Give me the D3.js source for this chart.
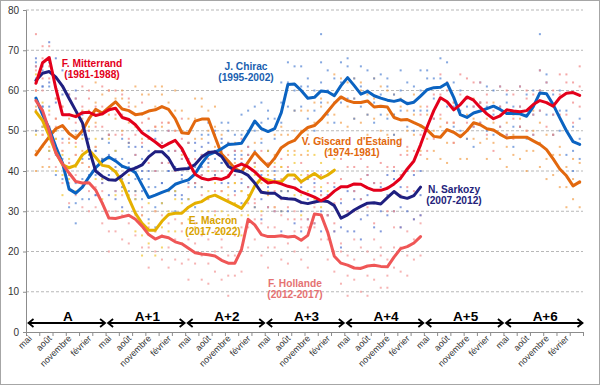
<!DOCTYPE html>
<html>
<head>
<meta charset="utf-8">
<script src="https://cdn.jsdelivr.net/npm/d3@7"></script>
<style>
  body { margin: 0; background: #fff; }
  text { font-family: Arial, "Liberation Sans", sans-serif; }
</style>
</head>
<body>
<svg id="canvas" width="600" height="385"></svg>
<script>
// popularity (%), monthly averages, index 0 = juin of year A
var mitterrand = [61.8,66.9,68.2,60.5,54,54,53.5,54.5,54.6,53.8,
  54.2,55.2,55.6,53.3,52.8,51.5,49.5,48.4,47.2,45.9,
  46.8,47.6,45.6,42.3,39.2,38.2,37.8,38.2,37.9,38.6,
  41,41.7,41,39.8,38.2,37,37.3,36.8,36.2,35.8,
  34.8,34.2,33.5,32.6,33.5,35,36.1,36.1,36.8,36.7,
  35.8,35.2,35.2,35.7,36.8,38.2,40.5,42.5,46.5,51,
  55,58.2,57.2,55.2,56.5,58.4,57.6,55.8,54.2,53,
  53.7,55.2,54.9,54.7,55,56.5,57.5,57,56.1,58.2,
  59.3,59.5,58.8];
var chirac = [58.1,54,50.5,46,42,35.5,34.5,36,38.5,40.8,
  42.4,43.5,42.5,41.2,40.6,39.6,36.5,33.4,34,34.7,
  35.3,36.7,37.3,37.8,39.3,41.9,44,44.7,45.5,46.6,
  46.7,46.9,49.5,52.4,50.5,49.8,50.5,54.5,61.5,61.6,
  60,58.1,58.3,59.9,59.7,58.7,61.2,63.2,61.2,59.1,
  59.8,58.7,58.1,57.6,57.3,57.7,56.7,57.1,58.6,60.2,
  60.7,60.8,61.8,58.3,54,53.3,54.4,54.9,55.5,56.1,
  55.3,54.3,54.3,54.2,53.6,56,59.4,59.2,56.5,53.2,
  50,47.3,46.6];
var giscard = [44,46.3,48.5,50.5,51.3,49.3,48.1,50,53,55.3,
  54.4,55.8,57.2,55.4,55,54,54.2,54.9,55.2,56,
  55.3,53,49.5,49.3,52.4,52.9,52.9,48.5,44.2,42.5,
  40.6,39.8,42.2,44.6,42.8,41.2,43.2,45.8,46.9,47.6,
  49.5,50.8,51.3,52.8,54.8,56.8,58.4,57.5,57,57,
  57.4,55.9,56.1,55.9,53.3,52.7,52.8,52,51.3,50.2,
  48.6,48.4,50.3,49.6,48.5,50,52,51.5,50.5,50.2,
  49.1,48.2,48.4,48.4,48.4,47.5,46.6,45.3,43,40.5,
  38.8,36.3,37.3];
var sarkozy = [62.5,64.3,64.7,63.3,61.1,58,55,52,45.5,40,
  38.7,37.8,37.7,38.9,40.2,40.7,41.5,43.5,44.8,44.8,
  43.2,40.3,40.5,40.6,41.6,43.5,44.6,44.8,43.6,41.2,
  40.1,39.8,38.9,37,34.7,34.5,34.5,33.3,33.1,33,
  32.2,31.9,32.3,32.6,32.4,31.4,28.3,29.1,30.3,31.2,
  32,32.1,31.8,33.4,34.9,33.6,33.2,33.9,36];
var hollande = [57.5,55,50,44.5,41.8,39.5,37.4,37,37.1,35.3,
  32,28.3,28.2,28.6,29,28,26.3,24.2,23.1,23.8,
  23.4,22.4,21.9,20.8,19.7,19.4,19.2,18.9,17.8,17.1,
  17.1,20.5,28,26.6,24.2,23.7,23.7,23.9,23.6,23.8,
  22.8,24,29.3,29.1,24.8,18.8,17.1,16.6,15.9,15.8,
  16.4,16.6,16.3,16.2,18.6,20.7,21.2,22.1,23.7];
var macron = [54.7,52.5,48.7,44.6,41.6,40.8,41.4,44,45.2,43.4,
  41.4,41.1,39.8,37.2,33.2,29.5,27,25.3,25.3,27.5,
  29.2,29.5,29.5,31,32,32.4,33.5,34,33.2,32.4,
  31.6,30.7,33,36.3,38.2,37.8,37.3,37.3,39,39,
  37.3,38.4,39.4,38.2,39,40.2];

// individual polls, one group per month (same start as above)
var mitterrandPolls = "55,60,66,74|63,68,71|63,66,71|53,58,63|51,56,61|48,54,59|47,52,58|51,56,61|50,58,60|46,51,56|51,56,61|49,55,60|49,54,60|49,54,59|48,56,58|44,49,54|47,52,57|42,48,53|40,45,51|42,47,52|42,50,52|40,45,50|43,48,53|36,42,47|32,37,43|34,39,44|33,41,43|30,35,40|35,40,45|33,39,44|34,39,45|38,43,48|36,44,46|32,37,42|35,40,45|31,37,42|30,35,41|33,38,43|31,39,41|28,33,38|32,37,42|28,34,39|27,32,38|29,34,39|29,37,39|27,32,37|33,38,43|30,36,41|30,35,41|33,38,43|31,39,41|27,32,37|32,37,42|30,36,41|30,35,41|34,39,44|36,44,46|35,40,45|44,49,54|45,51,56|48,53,59|54,59,64|52,60,62|47,52,57|54,59,64|52,58,63|51,56,62|52,57,62|49,57,59|45,50,55|51,56,61|49,55,60|48,53,59|51,56,61|50,58,60|49,54,59|55,60,65|51,57,62|49,54,60|54,59,64|54,62,64|52,57,62|56,61,66";
var chiracPolls = "50,55,63,67|51,56,61,65|45,51,56,61|39,44,50|38,43,48|31,39,41|27,32,37|33,38,43|33,39,44|34,39,45|38,43,48|39,47,49|35,40,45|38,43,48|35,41,46|33,38,44|33,38,43|28,36,38|26,31,36|32,37,42|29,35,40|30,35,41|33,38,43|33,41,43|31,36,41|39,44,49|38,44,49|38,43,49|42,47,52|42,50,52|39,44,49|44,49,54|44,50,55|45,50,56|47,52,57|45,53,55|43,48,53|52,57,62|56,62,67|55,60,66|56,61,66|53,61,63|50,55,60|57,62,67,74|54,60,65|52,57,63|57,62,67|58,66,68|53,58,63|56,61,66|54,60,65|52,57,63|54,59,64|53,61,63|49,54,59|55,60,65|51,57,62|50,55,61|55,60,65|55,63,65|53,58,63|58,63,68|56,62,67|51,56,62|50,55,60|48,56,58|46,51,56|52,57,62|50,56,61|49,54,60|51,56,61|49,57,59|46,51,56|51,56,61|48,54,59|49,54,60|55,60,65,74|54,62,64|49,54,59|50,55,60|44,50,55|40,45,51|43,48,53";
var giscardPolls = "40,45,50,56|41,49,51|41,46,51|48,53,58|45,51,56|42,47,53|44,49,54|45,53,55|45,50,55|52,57,62|48,54,59|49,54,60|53,58,63|50,58,60|47,52,57|51,56,61|48,54,59|48,53,59|51,56,61|51,59,61|47,52,57|50,55,60|44,50,55|42,47,53|48,53,58|48,56,58|45,50,55|46,51,56|38,44,49|36,41,47|37,42,47|35,43,45|34,39,44|42,47,52|37,43,48|34,39,45|39,44,49|41,49,51|39,44,49|45,50,55|44,50,55|44,49,55|47,52,57|48,56,58|47,52,57|54,59,64|52,58,63|51,56,62|53,58,63|52,60,62|49,54,59|53,58,63|50,56,61|49,54,60|49,54,59|48,56,58|45,50,55|49,54,59|45,51,56|43,48,54|45,50,55|43,51,53|42,47,52|47,52,57|43,49,54|43,48,54|48,53,58|47,55,57|43,48,53|47,52,57|43,49,54|41,46,52|44,49,54|43,51,53|40,45,50|45,50,55|41,47,52|38,43,49|39,44,49|36,44,46|31,36,41|33,38,43|31,37,42";
var sarkozyPolls = "58,66,68|56,61,66|62,67,72|57,63,68|54,59,65|54,59,64|50,58,60|44,49,54|43,48,53|34,40,45|32,37,43|34,39,44|33,41,43|31,36,41|37,42,47|35,41,46|35,40,46|40,45,50|40,48,50|37,42,47|40,45,50|34,40,45|34,39,45|37,42,47|37,45,47|36,41,46|42,47,52|39,45,50|37,42,48|37,42,47|35,43,45|32,37,42|36,41,46|31,37,42|28,33,39|31,36,41|30,38,40|25,30,35|30,35,40|27,33,38|25,30,36|28,33,38|27,35,37|25,30,35|29,34,39|25,31,36|21,26,32|25,30,35|25,33,35|23,28,33|29,34,39|26,32,37|25,30,36|29,34,39|30,38,40|26,31,36|30,35,40|28,34,39|29,34,40";
var hollandePolls = "55,60,65|49,55,60|43,48,54|41,46,51|37,45,47|32,37,42|34,39,44|31,37,42|30,35,41|31,36,41|27,35,37|20,25,30|25,30,35|23,29,34|22,27,33|24,29,34|21,29,31|16,21,26|20,25,30|18,24,29|16,21,27|18,23,28|17,25,27|13,18,23|17,22,27|13,19,24|12,17,23|15,20,25|13,21,23|9,14,19|14,19,24|15,21,26|21,26,32|23,28,33|19,27,29|16,21,26|21,26,31|18,24,29|17,22,28|20,25,30|18,26,28|16,21,26|26,31,36|23,29,34|18,23,29|15,20,25|12,20,22|9,14,19|13,18,23|10,16,21|9,14,20|13,18,23|11,19,21|11,14,18|16,21,26|15,21,26|14,19,25|18,23,28|19,27,29";
var macronPolls = "49,55,60,64|46,51,57|45,50,55|40,48,50|34,39,44|38,43,48|35,41,46|37,42,48|41,46,51|38,46,48|33,38,43|38,43,48|34,40,45|30,35,41|29,34,39|25,33,35|19,24,29|22,27,32|19,25,30|21,26,32|25,30,35|25,33,35|22,27,32|28,33,38|26,32,37|25,30,36|30,35,40|29,37,39|25,30,35|29,34,39|26,32,37|24,29,35|29,34,39|31,39,41|30,35,40|35,40,45|31,37,42|30,35,41|35,40,45|34,42,44|29,34,39|35,40,45|33,39,44|31,36,42|35,40,45|35,43,45";

var monthLabels = ["mai", "août", "novembre", "février"];
var yearLabels = ["A", "A+1", "A+2", "A+3", "A+4", "A+5", "A+6"];
var yTicks = [0, 10, 20, 30, 40, 50, 60, 70, 80];

var presidents = [
  {name: "V. Giscard\u00a0\u00a0d'Estaing", years: "(1974-1981)", values: giscard, polls: giscardPolls, color: "#e2680e", dot: "#f3a557", label: "#e2680e", lx: 352, ly: 145},
  {name: "J. Chirac", years: "(1995-2002)", values: chirac, polls: chiracPolls, color: "#0b63c1", dot: "#5b8ad6", label: "#1a5fb0", lx: 246, ly: 70},
  {name: "E. Macron", years: "(2017-2022)", values: macron, polls: macronPolls, color: "#e5b000", dot: "#f2c73a", label: "#d8a300", lx: 213, ly: 224},
  {name: "F. Hollande", years: "(2012-2017)", values: hollande, polls: hollandePolls, color: "#ef5656", dot: "#f39a9a", label: "#e57272", lx: 295, ly: 286.5},
  {name: "N. Sarkozy", years: "(2007-2012)", values: sarkozy, polls: sarkozyPolls, color: "#1f1f80", dot: "#5a78d0", label: "#23237a", lx: 454, ly: 193},
  {name: "F. Mitterrand", years: "(1981-1988)", values: mitterrand, polls: mitterrandPolls, color: "#e3001b", dot: "#f28a8a", label: "#e3001b", lx: 92, ly: 66.5}
];

var canvas = d3.select("#canvas");

canvas.append("rect")
  .attr("x", 0.5).attr("y", 0.5)
  .attr("width", 599).attr("height", 384)
  .style("fill", "#fff")
  .style("stroke", "#a6a6a6");

var nMonths = 84;
var plotLeft = 26, plotRight = 583, plotTop = 10, plotBottom = 332;

var x = d3.scaleBand().domain(d3.range(nMonths)).range([plotLeft, plotRight]);
var xEdge = d3.scaleLinear().domain([0, nMonths]).range([plotLeft, plotRight]);
var y = d3.scaleLinear().domain([0, 80]).range([plotBottom, plotTop]);
var xc = function(i){ return x(i) + x.bandwidth() / 2; };

// gridlines
canvas.append("g")
  .selectAll("line")
  .data(yTicks.filter(function(d){ return d > 0; }))
  .enter().append("line")
  .attr("x1", plotLeft).attr("x2", plotRight)
  .attr("y1", function(d){ return y(d); })
  .attr("y2", function(d){ return y(d); })
  .style("stroke", "#b8b8b8")
  .style("stroke-dasharray", "3,2");

// y axis
var yAxis = canvas.append("g")
  .attr("transform", "translate(" + plotLeft + ",0)")
  .call(d3.axisLeft(y).tickValues(yTicks).tickSize(3).tickPadding(4));
yAxis.select(".domain").style("stroke", "#8c8c8c");
yAxis.selectAll(".tick line").style("stroke", "#8c8c8c");
yAxis.selectAll("text").style("font-size", "10px").style("fill", "#333")
  .style("font-family", "Arial, 'Liberation Sans', sans-serif");

// x axis: tick every 2 months
var xAxis = canvas.append("g")
  .attr("transform", "translate(0," + plotBottom + ")")
  .call(d3.axisBottom(xEdge).tickValues(d3.range(0, nMonths + 1, 2)).tickSize(4).tickFormat(""));
xAxis.select(".domain").style("stroke", "#8c8c8c");
xAxis.selectAll(".tick line").style("stroke", "#8c8c8c");

// month labels every 3 months
canvas.append("g")
  .selectAll("text")
  .data(d3.range(0, nMonths, 3))
  .enter().append("text")
  .attr("transform", function(d){ return "translate(" + (xc(d) + 3) + "," + (plotBottom + 7) + ") rotate(-45)"; })
  .attr("text-anchor", "end")
  .style("font-size", "9px")
  .style("fill", "#333")
  .text(function(d){ return monthLabels[(d / 3) % 4]; });

// year arrows
var arrowY = 323;
var years = canvas.append("g");
yearLabels.forEach(function(lab, k){
  var x0 = xEdge(k * 12) + 2.5, x1 = xEdge(k * 12 + 12) - 0.5;
  years.append("path")
    .attr("d", "M" + x0 + "," + arrowY + "H" + x1 +
      "M" + (x0 + 5) + "," + (arrowY - 4) + "L" + x0 + "," + arrowY + "L" + (x0 + 5) + "," + (arrowY + 4) +
      "M" + (x1 - 5) + "," + (arrowY - 4) + "L" + x1 + "," + arrowY + "L" + (x1 - 5) + "," + (arrowY + 4))
    .style("fill", "none")
    .style("stroke", "#000")
    .style("stroke-width", 1.8);
  years.append("text")
    .attr("x", (x0 + x1) / 2 + 1)
    .attr("y", 320.5)
    .attr("text-anchor", "middle")
    .style("font-size", "13.5px")
    .style("font-weight", "bold")
    .text(lab);
});

// poll dots
var dots = canvas.append("g");
presidents.forEach(function(p){
  var pts = [];
  p.polls.split("|").forEach(function(grp, i){
    grp.split(",").forEach(function(v){ pts.push([i + 1, +v]); });
  });
  dots.selectAll(null)
    .data(pts)
    .enter().append("rect")
    .attr("x", function(d){ return xc(d[0]) - 1; })
    .attr("y", function(d){ return y(d[1]) - 1; })
    .attr("width", 2).attr("height", 2)
    .style("fill", p.dot)
    .style("opacity", 0.75);
});

// lines
var line = d3.line()
  .x(function(d, i){ return xc(i + 1); })
  .y(function(d){ return y(d); });

canvas.append("g")
  .selectAll("path")
  .data(presidents)
  .enter().append("path")
  .attr("d", function(p){ return line(p.values); })
  .style("fill", "none")
  .style("stroke", function(p){ return p.color; })
  .style("stroke-width", 3)
  .style("stroke-linejoin", "round")
  .style("stroke-linecap", "round");

// labels
var labels = canvas.append("g");
presidents.forEach(function(p){
  labels.append("text")
    .attr("x", p.lx).attr("y", p.ly)
    .attr("text-anchor", "middle")
    .style("font-size", "10.2px")
    .style("font-weight", "bold")
    .style("fill", p.label)
    .text(p.name);
  labels.append("text")
    .attr("x", p.lx).attr("y", p.ly + 11)
    .attr("text-anchor", "middle")
    .style("font-size", "10.2px")
    .style("font-weight", "bold")
    .style("fill", p.label)
    .text(p.years);
});
</script>
</body>
</html>
